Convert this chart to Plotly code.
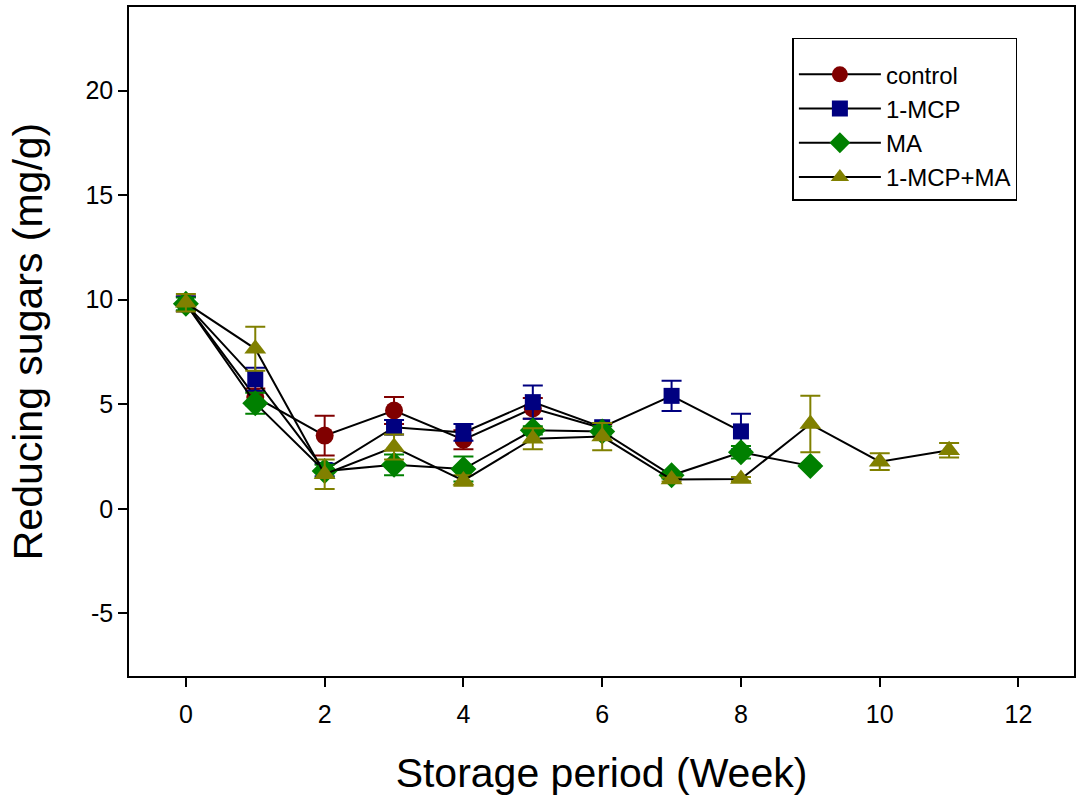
import plotly.graph_objects as go

# Reducing sugar content during storage, mean ± error per treatment
weeks_control = [0, 1, 2, 3, 4, 5, 6]
control = [9.8, 5.35, 3.5, 4.7, 3.3, 4.8, 3.85]
control_err = [0.35, 0.4, 0.95, 0.65, 0.45, 0.5, 0.2]

weeks_mcp = [0, 1, 2, 3, 4, 5, 6, 7, 8]
mcp = [9.8, 6.2, 1.85, 3.9, 3.65, 5.1, 3.9, 5.4, 3.7]
mcp_err = [0.35, 0.55, 0.3, 0.35, 0.4, 0.8, 0.2, 0.72, 0.85]

weeks_ma = [0, 1, 2, 3, 4, 5, 6, 7, 8, 9]
ma = [9.8, 5.05, 1.8, 2.1, 1.9, 3.75, 3.7, 1.6, 2.7, 2.05]
ma_err = [0.3, 0.5, 0.3, 0.5, 0.6, 0.2, 0.25, 0.15, 0.3, 0.1]

weeks_mcp_ma = [0, 1, 2, 3, 4, 5, 6, 7, 8, 9, 10, 11]
mcp_ma = [9.85, 7.65, 1.65, 2.95, 1.35, 3.35, 3.45, 1.4, 1.42, 4.05, 2.25, 2.8]
mcp_ma_err = [0.42, 1.05, 0.7, 0.6, 0.25, 0.5, 0.65, 0.1, 0.1, 1.35, 0.4, 0.35]

x_ticks = [0, 2, 4, 6, 8, 10, 12]
y_ticks = [-5, 0, 5, 10, 15, 20]
y_tick_labels = ["-5", "0", "5", "10", "15", "20"]

series = [
    ("control", weeks_control, control, control_err, "#800000", "circle", 18),
    ("1-MCP", weeks_mcp, mcp, mcp_err, "#000080", "square", 16),
    ("MA", weeks_ma, ma, ma_err, "#008000", "diamond", 20),
    ("1-MCP+MA", weeks_mcp_ma, mcp_ma, mcp_ma_err, "#808000", "triangle-up", 19),
]

FONT = "Liberation Sans, Arial, sans-serif"

fig = go.Figure()
for name, xs, ys, errs, color, symbol, size in series:
    fig.add_trace(go.Scatter(
        x=xs, y=ys, name=name, mode="lines+markers",
        legendgroup=name,
        line=dict(color="black", width=2),
        marker=dict(symbol=symbol, size=size, color=color,
                    line=dict(width=0)),
        error_y=dict(type="data", array=errs, visible=True,
                     color=color, thickness=2, width=10),
    ))

axis_common = dict(
    showline=True, linecolor="black", linewidth=1.5, mirror=True,
    ticks="outside", ticklen=9, tickwidth=1.5, tickcolor="black",
    showgrid=False, zeroline=False,
    tickfont=dict(family=FONT, size=25, color="black"),
)

fig.update_xaxes(
    range=[-0.82, 12.8], tickvals=x_ticks, ticklabelstandoff=6,
    title=dict(text="Storage period (Week)", standoff=32,
               font=dict(family=FONT, size=41, color="black")),
    **axis_common,
)
fig.update_yaxes(
    range=[-8, 24], tickvals=y_ticks, ticktext=y_tick_labels,
    title=dict(text="Reducing sugars (mg/g)", standoff=30,
               font=dict(family=FONT, size=41, color="black")),
    **axis_common,
)

fig.update_layout(
    width=1081, height=809, autosize=False,
    margin=dict(l=129, r=5, t=7, b=133),
    plot_bgcolor="white", paper_bgcolor="white",
    font=dict(family=FONT, color="black"),
    legend=dict(
        x=0.702, y=0.954, xanchor="left", yanchor="top",
        bgcolor="white", bordercolor="black", borderwidth=1.5,
        font=dict(family=FONT, size=24, color="black"),
        title=dict(text=" ", font=dict(size=10)),
        tracegroupgap=0, itemwidth=82,
    ),
)

fig.write_html("out.html")
